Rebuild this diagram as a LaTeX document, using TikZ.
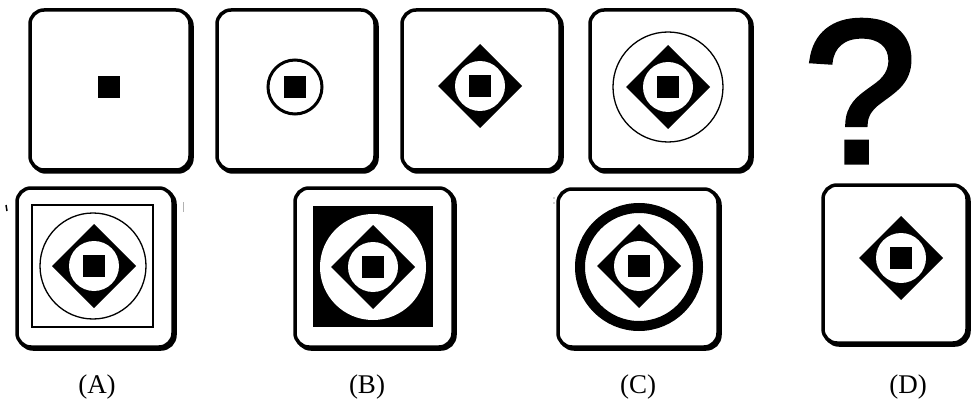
\documentclass[tikz,border=0pt]{standalone}
\usepackage{fontspec}
\setmainfont{Liberation Serif}
\newfontfamily\qfont[FakeBold=2.5]{Liberation Sans}
\begin{document}
\begin{tikzpicture}[x=1pt,y=-1pt,
  frame/.style={line width=3.5pt,rounded corners=14pt},
  shadowframe/.style={line width=3.5pt,rounded corners=14pt,shift={(2,2)}},
  lab/.style={font=\fontsize{27}{27}\selectfont,anchor=base,inner sep=0pt},
  thin/.style={line width=1.3pt}]
\useasboundingbox (0,0) rectangle (972,401);
\newcommand\optbox[4]{%
  \draw[shadowframe] (#1,#2) rectangle (#3,#4);
  \draw[frame,fill=white] (#1,#2) rectangle (#3,#4);}
\newcommand\motif[2]{%
  \fill (#1-42,#2) -- (#1,#2-42) -- (#1+42,#2) -- (#1,#2+42) -- cycle;
  \fill[white] (#1,#2) circle[radius=25pt];
  \fill (#1-11,#2-11) rectangle (#1+11,#2+11);}
% top row
\optbox{30}{10}{190}{170}
\fill (98,76) rectangle (120,98);
\optbox{217}{10}{375}{170}
\draw[line width=3pt,fill=white] (295,87) circle[radius=27pt];
\fill (284,76) rectangle (306,98);
\optbox{402}{10}{560}{170}
\motif{480}{86}
\optbox{590}{10}{750}{170}
\draw[thin] (668,87) circle[radius=55pt];
\motif{668}{87}
\node[inner sep=0pt,anchor=base,font=\qfont\fontsize{203}{203}\selectfont] (q) at (860,162) {\smash{?}};
% option A
\optbox{17}{188}{173}{347}
\draw[line width=2pt] (32,205) rectangle (153,327);
\draw[thin] (93,266) circle[radius=53pt];
\motif{94}{266}
\draw[line width=1.5pt] (6,205) -- (7,211);
\draw[line width=1pt,gray!60] (183,202) -- (183,212);
% option B
\optbox{295}{188}{453}{347}
\fill (313,206) rectangle (433,327);
\fill[white] (373,267) circle[radius=53pt];
\motif{373}{267}
% option C
\optbox{558}{189}{718}{347}
\draw[line width=10pt] (639,267) circle[radius=59pt];
\motif{639}{266}
\fill[gray!70] (554,198) circle[radius=0.8pt] (554,203) circle[radius=0.8pt];
% option D
\optbox{823}{185}{967}{343}
\motif{901}{258}
% labels
\node[lab] (la) at (97,393) {(A)};
\node[lab] (lb) at (367,393) {(B)};
\node[lab] (lc) at (638,393) {(C)};
\node[lab] (ld) at (908,393) {(D)};
\end{tikzpicture}
\end{document}
